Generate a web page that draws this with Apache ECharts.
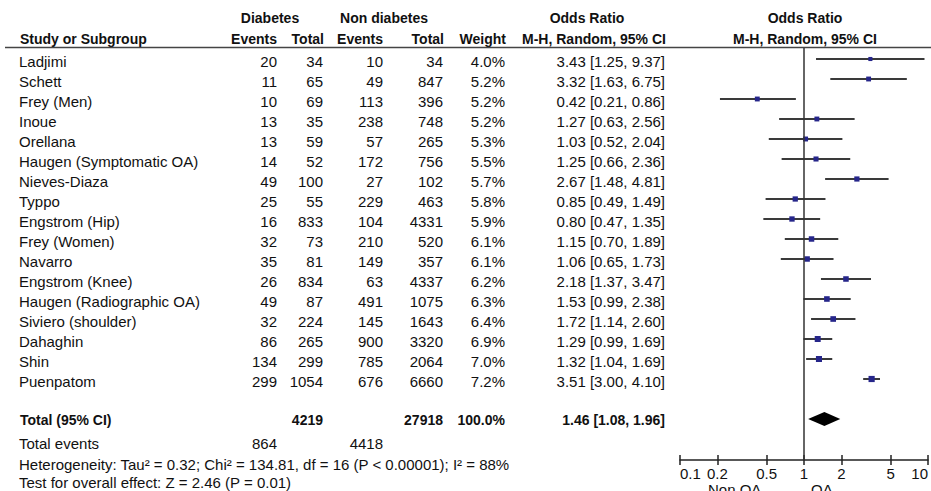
<!DOCTYPE html>
<html>
<head>
<meta charset="utf-8">
<script src="https://cdn.jsdelivr.net/npm/echarts@6/dist/echarts.min.js"></script>
<style>
html,body{margin:0;padding:0;background:#fff;}
#chart{width:931px;height:491px;}
</style>
</head>
<body>
<div id="chart"></div>
<script>
// ---------- data ----------
const studies = ['Ladjimi','Schett','Frey (Men)','Inoue','Orellana','Haugen (Symptomatic OA)','Nieves-Diaza','Typpo','Engstrom (Hip)','Frey (Women)','Navarro','Engstrom (Knee)','Haugen (Radiographic OA)','Siviero (shoulder)','Dahaghin','Shin','Puenpatom'];
const diabEvents = [20,11,10,13,13,14,49,25,16,32,35,26,49,32,86,134,299];
const diabTotal = [34,65,69,35,59,52,100,55,833,73,81,834,87,224,265,299,1054];
const nonEvents = [10,49,113,238,57,172,27,229,104,210,149,63,491,145,900,785,676];
const nonTotal = [34,847,396,748,265,756,102,463,4331,520,357,4337,1075,1643,3320,2064,6660];
const weights = [4.0,5.2,5.2,5.2,5.3,5.5,5.7,5.8,5.9,6.1,6.1,6.2,6.3,6.4,6.9,7.0,7.2];
const oddsRatio = [3.43,3.32,0.42,1.27,1.03,1.25,2.67,0.85,0.80,1.15,1.06,2.18,1.53,1.72,1.29,1.32,3.51];
const ciLow = [1.25,1.63,0.21,0.63,0.52,0.66,1.48,0.49,0.47,0.70,0.65,1.37,0.99,1.14,0.99,1.04,3.00];
const ciHigh = [9.37,6.75,0.86,2.56,2.04,2.36,4.81,1.49,1.35,1.89,1.73,3.47,2.38,2.60,1.69,1.69,4.10];
const totalLabel = 'Total (95% CI)';
const totalDiab = 4219;
const totalNon = 27918;
const totalWeight = 100.0;
const totalOR = 1.46, totalLow = 1.08, totalHigh = 1.96;
const totalEventsDiab = 864, totalEventsNon = 4418;
const heterogeneityText = 'Heterogeneity: Tau\u00b2 = 0.32; Chi\u00b2 = 134.81, df = 16 (P < 0.00001); I\u00b2 = 88%';
const overallText = 'Test for overall effect: Z = 2.46 (P = 0.01)';
const tickValues = [0.1,0.2,0.5,1,2,5,10];
const tickLabels = ['0.1','0.2','0.5','1','2','5','10'];
const favourLeft = 'Non OA', favourRight = 'OA';

// ---------- layout ----------
const FONT = 'Liberation Sans, Arial, sans-serif';
const FS = 15;
const FSB = 14;
const rowY = i => 61 + 20 * i;
const TOTAL_ROW = 18;
const fmt2 = v => v.toFixed(2);
const L = Math.log10;

const graphics = [];
function txt(x, y, text, align, bold) {
  graphics.push({
    type: 'text', x: x, y: y, silent: true,
    style: { text: String(text), align: align || 'left', verticalAlign: 'middle',
      fontFamily: FONT, fontSize: bold ? FSB : FS, fontWeight: bold ? 'bold' : 'normal', fill: '#111' }
  });
}
// headers
txt(270, 18, 'Diabetes', 'center', true);
txt(384, 18, 'Non diabetes', 'center', true);
txt(587, 18, 'Odds Ratio', 'center', true);
txt(805, 18, 'Odds Ratio', 'center', true);
txt(20, 39, 'Study or Subgroup', 'left', true);
txt(277, 39, 'Events', 'right', true);
txt(324, 39, 'Total', 'right', true);
txt(383, 39, 'Events', 'right', true);
txt(444, 39, 'Total', 'right', true);
txt(506, 39, 'Weight', 'right', true);
txt(594, 39, 'M-H, Random, 95% CI', 'center', true);
txt(805, 39, 'M-H, Random, 95% CI', 'center', true);
graphics.push({ type: 'line', silent: true, shape: { x1: 5, y1: 47.5, x2: 931, y2: 47.5 },
  style: { stroke: '#444', lineWidth: 1.5 } });
// rows
studies.forEach((s, i) => {
  const y = rowY(i);
  txt(19, y, s, 'left');
  txt(277, y, diabEvents[i], 'right');
  txt(323, y, diabTotal[i], 'right');
  txt(383, y, nonEvents[i], 'right');
  txt(443, y, nonTotal[i], 'right');
  txt(505, y, weights[i].toFixed(1) + '%', 'right');
  txt(665, y, fmt2(oddsRatio[i]) + ' [' + fmt2(ciLow[i]) + ', ' + fmt2(ciHigh[i]) + ']', 'right');
});
// totals
txt(20, 420, totalLabel, 'left', true);
txt(323, 420, totalDiab, 'right', true);
txt(443, 420, totalNon, 'right', true);
txt(505, 420, totalWeight.toFixed(1) + '%', 'right', true);
txt(665, 420, fmt2(totalOR) + ' [' + fmt2(totalLow) + ', ' + fmt2(totalHigh) + ']', 'right', true);
txt(19, 443, 'Total events', 'left');
txt(277, 443, totalEventsDiab, 'right');
txt(383, 443, totalEventsNon, 'right');
txt(19, 464, heterogeneityText, 'left');
txt(19, 482, overallText, 'left');
txt(708, 489, favourLeft, 'left');
txt(811, 489, favourRight, 'left');

// ---------- series data ----------
const studyData = studies.map((s, i) => [L(oddsRatio[i]), i, L(ciLow[i]), L(ciHigh[i]), weights[i]]);
const totalData = [[L(totalOR), TOTAL_ROW, L(totalLow), L(totalHigh)]];
const tickLog = tickValues.map(L);

const chart = echarts.init(document.getElementById('chart'), null, { renderer: 'svg' });
chart.setOption({
  animation: false,
  backgroundColor: '#fff',
  grid: { left: 680, right: 1, top: 48, bottom: 31, containLabel: false },
  xAxis: [{
    type: 'value', min: -1, max: 1, position: 'bottom',
    axisLine: { show: true, onZero: false, lineStyle: { color: '#222', width: 1.5 } },
    axisTick: { show: true, length: 5, customValues: tickLog, lineStyle: { color: '#222', width: 1.5 } },
    axisLabel: { show: true, customValues: tickLog, margin: 6, color: '#111', fontFamily: FONT, fontSize: FS,
      alignMinLabel: 'left', alignMaxLabel: 'right',
      formatter: v => { const k = tickLog.findIndex(t => Math.abs(t - v) < 1e-6); return k >= 0 ? tickLabels[k] : ''; } },
    splitLine: { show: false }
  }, {
    type: 'value', min: -1, max: 1, position: 'bottom',
    axisLine: { show: false, onZero: false },
    axisTick: { show: true, inside: true, length: 5, customValues: tickLog, lineStyle: { color: '#222', width: 1.5 } },
    axisLabel: { show: false },
    splitLine: { show: false }
  }],
  yAxis: { type: 'value', min: -0.55, max: 20.05, inverse: true, show: false },
  series: [{
    type: 'custom', xAxisIndex: 0,
    data: studyData,
    encode: { x: 0, y: 1 },
    renderItem: (params, api) => {
      const y = api.value(1);
      const p0 = api.coord([api.value(2), y]);
      const p1 = api.coord([api.value(3), y]);
      const pc = api.coord([api.value(0), y]);
      const sz = 1.5 + api.value(4) * 0.65;
      return { type: 'group', children: [
        { type: 'line', shape: { x1: p0[0], y1: p0[1], x2: p1[0], y2: p1[1] }, style: { stroke: '#3a3a3a', lineWidth: 2 } },
        { type: 'rect', shape: { x: pc[0] - sz / 2, y: pc[1] - sz / 2, width: sz, height: sz }, style: { fill: '#26268a' } }
      ] };
    },
    markLine: { silent: true, symbol: 'none', label: { show: false },
      lineStyle: { color: '#333', width: 1.5, type: 'solid' },
      data: [{ xAxis: 0 }] },
    z: 3
  }, {
    type: 'custom', xAxisIndex: 0,
    data: totalData,
    encode: { x: 0, y: 1 },
    renderItem: (params, api) => {
      const y = api.value(1);
      const pl = api.coord([api.value(2), y]);
      const pr = api.coord([api.value(3), y]);
      const pc = api.coord([api.value(0), y]);
      const h = 7;
      return { type: 'polygon', shape: { points: [[pl[0], pl[1]], [pc[0], pc[1] - h], [pr[0], pr[1]], [pc[0], pc[1] + h]] },
        style: { fill: '#000' } };
    },
    z: 3
  }],
  graphic: graphics
});
</script>
</body>
</html>
